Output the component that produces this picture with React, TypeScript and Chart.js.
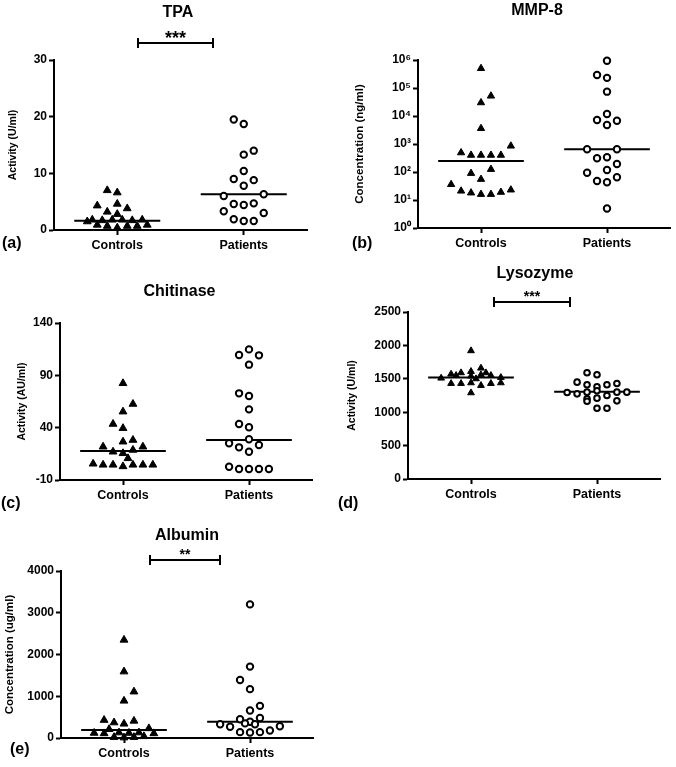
import React, { useEffect, useRef } from 'react';
import { Chart, registerables } from 'chart.js';

Chart.register(...registerables);

const FONT = "Arial, 'Liberation Sans', Helvetica, sans-serif";
const categories = ['Controls', 'Patients'];

// ---------- (a) TPA ----------
const tpaTicks = [0, 10, 20, 30];
const tpaControls = [7.0, 6.6, 4.3, 4.6, 3.8, 3.2, 2.8, 1.5, 1.8, 1.7, 1.8, 1.8, 1.7, 1.8, 0.9, 0.7, 0.4, 0.7, 0.7, 0.9];
const tpaControlsJitter = [-1, 0, -2, 0, 1, -1, 0, -3, -2.5, -1.5, -0.5, 0.5, 1.5, 2.5, -2, -1, 0, 1, 2, 3];
const tpaPatients = [19.5, 18.7, 13.3, 14.0, 10.4, 9.0, 8.8, 7.8, 6.0, 6.3, 4.6, 4.4, 4.7, 3.3, 3.0, 1.9, 1.6, 1.6];
const tpaPatientsJitter = [-1, 0, 0, 1, 0, -1, 1, 0, -2, 2, -1, 0, 1, -2, 2, -1, 0, 1];
const tpaMedians = [1.65, 6.3];

// ---------- (b) MMP-8 ----------
const mmpTicks = [1, 10, 100, 1000, 10000, 100000, 1000000];
const mmpControls = [500000, 52000, 30000, 3600, 850, 490, 400, 400, 400, 400, 125, 90, 55, 36, 21, 18, 16, 16, 19, 23];
const mmpControlsJitter = [0, 1, 0, 0, 3, -2, -1, 0, 1, 2, 1, -1, 0, -3, -2, -1, 0, 1, 2, 3];
const mmpPatients = [940000, 290000, 230000, 74000, 11800, 7200, 6800, 4800, 650, 650, 310, 335, 194, 94, 118, 65, 48, 43, 5];
const mmpPatientsJitter = [0, -1, 0, 0, 0, -1, 1, 0, -2, 1, -1, 0, 1, -2, 0, 1, -1, 0, 0];
const mmpMedians = [247, 646];

// ---------- (c) Chitinase ----------
const chiTicks = [-10, 40, 90, 140];
const chiControls = [82.4, 62.6, 55.3, 43.5, 39.5, 26.6, 28.2, 21.8, 21.8, 17.0, 18.7, 15.5, 10.7, 5.5, 4.5, 4.5, 3.0, 4.5, 4.5, 4.5];
const chiControlsJitter = [0, 1, 0, -1, 0, 0, 1, -2, 2, -1, 1, 0, 0.5, -3, -2, -1, 0, 1, 2, 3];
const chiPatients = [114.8, 109.4, 109.1, 100.2, 72.8, 70.3, 57.5, 43.5, 40.4, 28.9, 25.1, 21.2, 23.4, 17.0, 2.7, 0.5, 0.5, 0.5, 0.5];
const chiPatientsJitter = [0, -1, 1, 0, -1, 0, 0, -1, 0, 0, -2, -1, 1, 0, -2, -1, 0, 1, 2];
const chiMedians = [17.7, 28.2];

// ---------- (d) Lysozyme ----------
const lysTicks = [0, 500, 1000, 1500, 2000, 2500];
const lysControls = [1510, 1570, 1430, 1590, 1430, 1920, 1610, 1540, 1440, 1290, 1660, 1560, 1400, 1590, 1550, 1430, 1520, 1440, 1550, 1500];
const lysControlsJitter = [-3, -2, -2, -1, -1, 0, 0, 0, 0, 0, 1, 1, 1, 1.5, 2, 2, 3, 3, -1.5, 0.5];
const lysPatients = [1295, 1450, 1275, 1590, 1410, 1300, 1200, 1165, 1560, 1380, 1320, 1210, 1060, 1410, 1250, 1060, 1430, 1300, 1170, 1300];
const lysPatientsJitter = [-3, -2, -2, -1, -1, -1, -1, -1, 0, 0, 0, 0, 0, 1, 1, 1, 2, 2, 2, 3];
const lysMedians = [1520, 1305];

// ---------- (e) Albumin ----------
const albTicks = [0, 1000, 2000, 3000, 4000];
const albControls = [2350, 1590, 1110, 890, 430, 370, 340, 410, 210, 230, 120, 110, 130, 120, 130, 110, 20, 10, 20, 40];
const albControlsJitter = [0, 0, 1, 0, -2, -1, 0, 1, -1.5, 2.5, -3, -2, -0.5, 0.5, 1.5, 3, -1, 0, 1, 2];
const albPatients = [3200, 1710, 1390, 1170, 770, 660, 450, 480, 390, 350, 330, 330, 270, 280, 140, 130, 140, 180];
const albPatientsJitter = [0, 0, -1, 0, 1, 0, -1, 1, 0, -0.5, 0.5, -3, -2, 3, -1, 0, 1, 2];
const albMedians = [192, 391];

const JITTER = 0.079;
const MEDIAN_HALF = 0.34;
const SUP: Record<number, string> = { 0: '\u2070', 1: '\u00B9', 2: '\u00B2', 3: '\u00B3', 4: '\u2074', 5: '\u2075', 6: '\u2076' };

type Panel = {
  key: string;
  title: string;
  titleX: number;
  titleY: number;
  letter: string;
  letterX: number;
  letterY: number;
  yLabel: string;
  yLabelSize: number;
  yLabelPad: number;
  log: boolean;
  ticks: number[];
  controls: number[];
  controlsJitter: number[];
  patients: number[];
  patientsJitter: number[];
  medians: number[];
  panelLeft: number;
  axisLeft: number;
  axisTop: number;
  axisRight: number;
  axisBottom: number;
  triR: number;
  circR: number;
  sig?: { x1: number; x2: number; y: number; cap: number; stars: string; size: number; baseline: number };
};

const panels: Panel[] = [
  {
    key: 'a', title: 'TPA', titleX: 178, titleY: 17, letter: '(a)', letterX: 2, letterY: 248,
    yLabel: 'Activity (U/ml)', yLabelSize: 10.5, yLabelPad: 6.7, log: false, ticks: tpaTicks,
    controls: tpaControls, controlsJitter: tpaControlsJitter, patients: tpaPatients, patientsJitter: tpaPatientsJitter,
    medians: tpaMedians, panelLeft: 0, axisLeft: 54, axisTop: 60, axisRight: 307, axisBottom: 230, triR: 4.5, circR: 3.2,
    sig: { x1: 138, x2: 213, y: 43, cap: 5, stars: '***', size: 18, baseline: 44 },
  },
  {
    key: 'b', title: 'MMP-8', titleX: 537, titleY: 15, letter: '(b)', letterX: 352, letterY: 248,
    yLabel: 'Concentration (ng/ml)', yLabelSize: 11.5, yLabelPad: 23.1, log: true, ticks: mmpTicks,
    controls: mmpControls, controlsJitter: mmpControlsJitter, patients: mmpPatients, patientsJitter: mmpPatientsJitter,
    medians: mmpMedians, panelLeft: 330, axisLeft: 418, axisTop: 60, axisRight: 670, axisBottom: 228, triR: 4.2, circR: 3.2,
  },
  {
    key: 'c', title: 'Chitinase', titleX: 179.5, titleY: 296, letter: '(c)', letterX: 1, letterY: 508,
    yLabel: 'Activity (AU/ml)', yLabelSize: 10.5, yLabelPad: 15.7, log: false, ticks: chiTicks,
    controls: chiControls, controlsJitter: chiControlsJitter, patients: chiPatients, patientsJitter: chiPatientsJitter,
    medians: chiMedians, panelLeft: 0, axisLeft: 60, axisTop: 323, axisRight: 312, axisBottom: 480, triR: 4.5, circR: 3.2,
  },
  {
    key: 'd', title: 'Lysozyme', titleX: 535, titleY: 278, letter: '(d)', letterX: 338, letterY: 508,
    yLabel: 'Activity (U/ml)', yLabelSize: 10.5, yLabelPad: 15.7, log: false, ticks: lysTicks,
    controls: lysControls, controlsJitter: lysControlsJitter, patients: lysPatients, patientsJitter: lysPatientsJitter,
    medians: lysMedians, panelLeft: 330, axisLeft: 408, axisTop: 312, axisRight: 660, axisBottom: 479, triR: 3.9, circR: 2.8,
    sig: { x1: 494, x2: 570, y: 302, cap: 5, stars: '***', size: 14, baseline: 300.5 },
  },
  {
    key: 'e', title: 'Albumin', titleX: 187, titleY: 539.5, letter: '(e)', letterX: 10, letterY: 754,
    yLabel: 'Concentration (ug/ml)', yLabelSize: 11.5, yLabelPad: 3.1, log: false, ticks: albTicks,
    controls: albControls, controlsJitter: albControlsJitter, patients: albPatients, patientsJitter: albPatientsJitter,
    medians: albMedians, panelLeft: 0, axisLeft: 61, axisTop: 571, axisRight: 313, axisBottom: 738, triR: 4.5, circR: 3.2,
    sig: { x1: 150, x2: 220, y: 560, cap: 5, stars: '**', size: 14, baseline: 558.5 },
  },
];

const W = 676;
const H = 767;
const X_HEIGHT = 25;

function makeChart(canvas: HTMLCanvasElement, p: Panel) {
  const ctrlData = p.controls.map((v, i) => ({ x: 1 + p.controlsJitter[i] * JITTER, y: v }));
  const patData = p.patients.map((v, i) => ({ x: 2 + p.patientsJitter[i] * JITTER, y: v }));
  const medianSets = p.medians.map((m, i) => ({
    type: 'line' as const,
    data: [
      { x: i + 1 - MEDIAN_HALF, y: m },
      { x: i + 1 + MEDIAN_HALF, y: m },
    ],
    showLine: true,
    borderColor: '#000',
    borderWidth: 2,
    pointRadius: 0,
    clip: false as const,
  }));

  const annot = {
    id: 'annot_' + p.key,
    afterDraw(chart: any) {
      const ctx = chart.ctx as CanvasRenderingContext2D;
      ctx.save();
      ctx.fillStyle = '#000';
      ctx.strokeStyle = '#000';
      ctx.textBaseline = 'alphabetic';
      ctx.font = `bold 16px ${FONT}`;
      ctx.textAlign = 'center';
      ctx.fillText(p.title, p.titleX, p.titleY);
      ctx.textAlign = 'left';
      ctx.font = `bold 16px ${FONT}`;
      ctx.fillText(p.letter, p.letterX, p.letterY);
      if (p.sig) {
        const s = p.sig;
        ctx.lineWidth = 2;
        ctx.beginPath();
        ctx.moveTo(s.x1, s.y);
        ctx.lineTo(s.x2, s.y);
        ctx.moveTo(s.x1, s.y - s.cap);
        ctx.lineTo(s.x1, s.y + s.cap);
        ctx.moveTo(s.x2, s.y - s.cap);
        ctx.lineTo(s.x2, s.y + s.cap);
        ctx.stroke();
        ctx.font = `bold ${s.size}px ${FONT}`;
        ctx.textAlign = 'center';
        ctx.fillText(s.stars, (s.x1 + s.x2) / 2, s.baseline);
      }
      ctx.restore();
    },
  };

  const tickFont = { family: FONT, size: 12, weight: 'bold' as const };

  return new Chart(canvas, {
    type: 'scatter',
    data: {
      datasets: [
        {
          data: ctrlData,
          pointStyle: 'triangle',
          pointRadius: p.triR,
          backgroundColor: '#000',
          borderColor: '#000',
          borderWidth: 1,
          clip: false,
        } as any,
        {
          data: patData,
          pointStyle: 'circle',
          pointRadius: p.circR,
          backgroundColor: '#fff',
          borderColor: '#000',
          borderWidth: 2,
          clip: false,
        } as any,
        ...medianSets,
      ],
    },
    options: {
      animation: false,
      responsive: false,
      maintainAspectRatio: false,
      devicePixelRatio: 1,
      events: [],
      layout: {
        padding: {
          left: p.panelLeft,
          top: p.axisTop,
          right: W - p.axisRight,
          bottom: H - p.axisBottom - X_HEIGHT,
        },
      },
      plugins: {
        legend: { display: false },
        tooltip: { enabled: false },
        title: { display: false },
      },
      scales: {
        x: {
          type: 'linear',
          min: 0.5,
          max: 2.5,
          afterBuildTicks: (s: any) => {
            s.ticks = categories.map((_, i) => ({ value: i + 1 }));
          },
          afterFit: (s: any) => {
            s.height = X_HEIGHT;
          },
          ticks: {
            callback: (v: any) => categories[Math.round(Number(v)) - 1] ?? '',
            font: { family: FONT, size: 12.5, weight: 'bold' },
            color: '#000',
            padding: 3,
            maxRotation: 0,
            autoSkip: false,
          },
          grid: {
            drawOnChartArea: false,
            drawTicks: true,
            tickLength: 5,
            tickWidth: 2,
            tickColor: '#000',
            color: '#000',
          },
          border: { display: true, color: '#000', width: 2 },
        },
        y: {
          type: p.log ? 'logarithmic' : 'linear',
          min: p.ticks[0],
          max: p.ticks[p.ticks.length - 1],
          afterBuildTicks: (s: any) => {
            s.ticks = p.ticks.map((v) => ({ value: v }));
          },
          afterFit: (s: any) => {
            s.width = p.axisLeft - p.panelLeft;
          },
          ticks: {
            callback: (v: any) =>
              p.log ? '10' + SUP[Math.round(Math.log10(Number(v)))] : String(v),
            font: tickFont,
            color: '#000',
            padding: 2,
            autoSkip: false,
          },
          grid: {
            drawOnChartArea: false,
            drawTicks: true,
            tickLength: 5,
            tickWidth: 2,
            tickColor: '#000',
            color: '#000',
          },
          border: { display: true, color: '#000', width: 2 },
          title: {
            display: true,
            text: p.yLabel,
            color: '#000',
            font: { family: FONT, size: p.yLabelSize, weight: 'bold' },
            padding: { top: p.yLabelPad, bottom: 0 },
          },
        } as any,
      },
    },
    plugins: [annot],
  } as any);
}

function PanelChart({ p }: { p: Panel }) {
  const ref = useRef<HTMLCanvasElement | null>(null);
  useEffect(() => {
    if (!ref.current) return;
    const chart = makeChart(ref.current, p);
    return () => chart.destroy();
  }, [p]);
  return (
    <canvas
      ref={ref}
      width={W}
      height={H}
      style={{ position: 'absolute', left: 0, top: 0, width: W, height: H }}
    />
  );
}

export default function App() {
  return (
    <div
      style={{
        position: 'absolute',
        left: 0,
        top: 0,
        width: W,
        height: H,
        background: '#fff',
        overflow: 'hidden',
      }}
    >
      {panels.map((p) => (
        <PanelChart key={p.key} p={p} />
      ))}
    </div>
  );
}
